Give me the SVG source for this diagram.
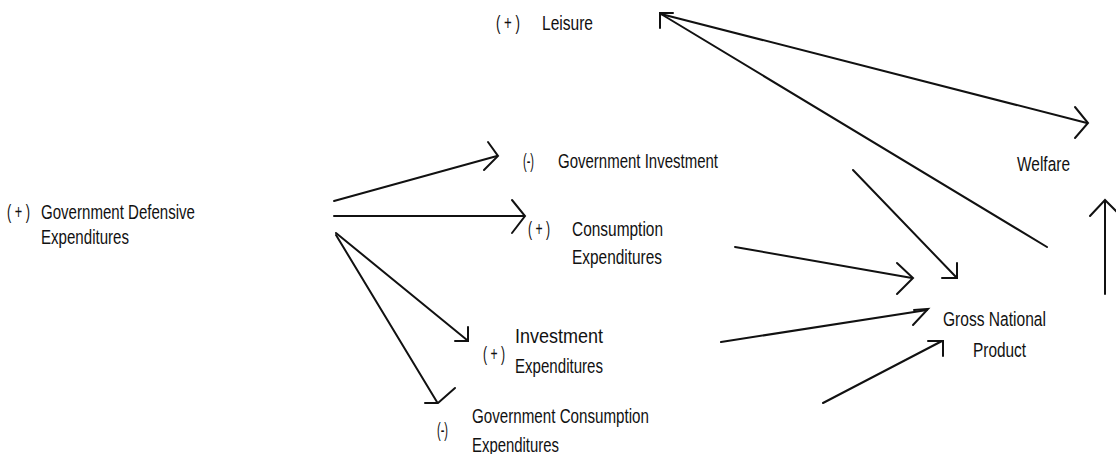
<svg xmlns="http://www.w3.org/2000/svg" width="1116" height="454" viewBox="0 0 1116 454">
<style>
.t{font-family:"Liberation Sans Narrow","Liberation Sans",Arial,sans-serif;font-size:20.5px;fill:#111}
.c line,.c polyline{stroke:#111;stroke-width:2;fill:none;stroke-linecap:round;stroke-linejoin:miter}
</style>
<rect width="1116" height="454" fill="#fff"/>
<g id="leisure">
<text class="t" x="496" y="30" textLength="24" lengthAdjust="spacingAndGlyphs">( + )</text>
<text class="t" x="542" y="30" textLength="51" lengthAdjust="spacingAndGlyphs">Leisure</text>
</g>
<g id="defensive">
<text class="t" x="7" y="219" textLength="23" lengthAdjust="spacingAndGlyphs">( + )</text>
<text class="t" x="41" y="219" textLength="154" lengthAdjust="spacingAndGlyphs">Government Defensive</text>
<text class="t" x="41" y="244" textLength="88" lengthAdjust="spacingAndGlyphs">Expenditures</text>
</g>
<g id="gov-investment">
<text class="t" x="523" y="168" textLength="11" lengthAdjust="spacingAndGlyphs">(-)</text>
<text class="t" x="558" y="168" textLength="160" lengthAdjust="spacingAndGlyphs">Government Investment</text>
</g>
<g id="consumption">
<text class="t" x="528" y="236" textLength="22" lengthAdjust="spacingAndGlyphs">( + )</text>
<text class="t" x="572" y="236" textLength="91" lengthAdjust="spacingAndGlyphs">Consumption</text>
<text class="t" x="572" y="264" textLength="90" lengthAdjust="spacingAndGlyphs">Expenditures</text>
</g>
<g id="investment">
<text class="t" x="483" y="361" textLength="22" lengthAdjust="spacingAndGlyphs">( + )</text>
<text class="t" x="515" y="343" textLength="88" lengthAdjust="spacingAndGlyphs">Investment</text>
<text class="t" x="515" y="373" textLength="88" lengthAdjust="spacingAndGlyphs">Expenditures</text>
</g>
<g id="gov-consumption">
<text class="t" x="472" y="423" textLength="177" lengthAdjust="spacingAndGlyphs">Government Consumption</text>
<text class="t" x="437" y="437" textLength="11" lengthAdjust="spacingAndGlyphs">(-)</text>
<text class="t" x="472" y="452" textLength="87" lengthAdjust="spacingAndGlyphs">Expenditures</text>
</g>
<g id="welfare">
<text class="t" x="1017" y="171" textLength="53" lengthAdjust="spacingAndGlyphs">Welfare</text>
</g>
<g id="gnp">
<text class="t" x="943" y="326" textLength="103" lengthAdjust="spacingAndGlyphs">Gross National</text>
<text class="t" x="973" y="357" textLength="53" lengthAdjust="spacingAndGlyphs">Product</text>
</g>
<g id="connectors" class="c">
<line x1="334" y1="201" x2="497" y2="156"/>
<polyline points="488,142 498,156 484,170"/>
<line x1="334" y1="216" x2="524" y2="216"/>
<polyline points="512,200 525,216 512,233"/>
<line x1="336" y1="233" x2="467" y2="340"/>
<polyline points="468,327 468,341 455,341"/>
<line x1="336" y1="235" x2="437" y2="402"/>
<polyline points="425,403 438,403 455,388"/>
<line x1="1087" y1="123" x2="661" y2="14"/>
<line x1="1047" y1="247" x2="661" y2="14"/>
<polyline points="660,28 660,13 673,13"/>
<polyline points="1075,107 1088,123 1075,138"/>
<line x1="853" y1="170" x2="956" y2="277"/>
<polyline points="957,263 957,278 942,278"/>
<line x1="735" y1="247" x2="912" y2="278"/>
<polyline points="897,263 913,278 897,294"/>
<line x1="721" y1="342" x2="927" y2="310"/>
<polyline points="913,325 928,309 914,310"/>
<line x1="823" y1="403" x2="942" y2="341"/>
<polyline points="928,341 943,341 943,356"/>
<line x1="1105" y1="294" x2="1105" y2="201"/>
<polyline points="1090,216 1105,200 1121,216"/>
</g>
</svg>
